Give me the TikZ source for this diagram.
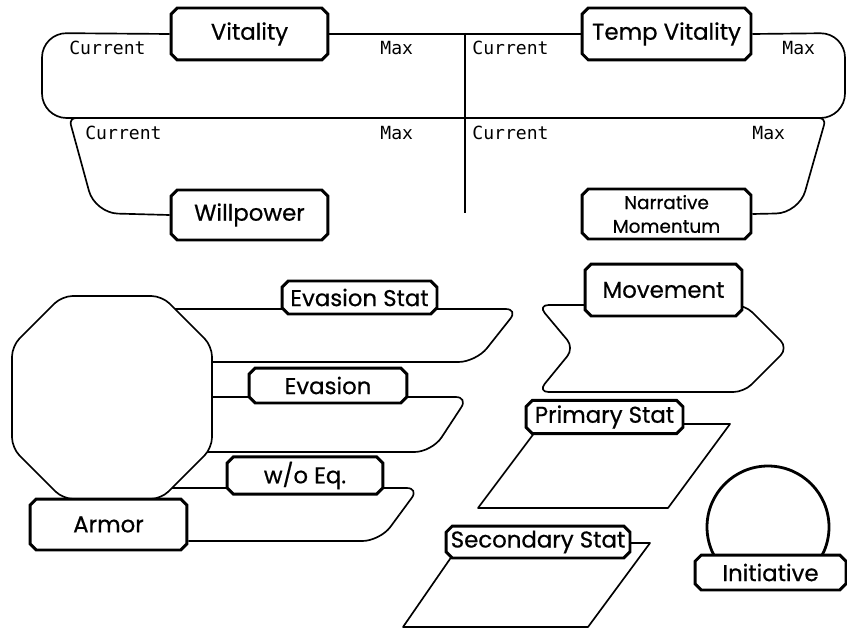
\documentclass[tikz,border=0pt]{standalone}
\usepackage{fontspec}
\setmainfont{Poppins}
\setmonofont{DejaVu Sans Mono}
\newfontfamily\tagfont{Poppins}[FakeBold=0.6]
\usetikzlibrary{shapes.misc}
\pgfdeclarelayer{background}
\pgfsetlayers{background,main}

\tikzset{
  tag/.style={chamfered rectangle, chamfered rectangle xsep=1.8pt,
    chamfered rectangle ysep=1.8pt, draw, line width=1.7pt, fill=white,
    inner sep=1pt, align=center, font=\tagfont\fontsize{13}{15}\selectfont,
    path picture={
      \foreach \corner/\dx/\dy in {north west/1/-1, north east/-1/-1,
                                   south west/1/1, south east/-1/1}
        \fill ([xshift=\dx*3.5pt, yshift=\dy*3.5pt]path picture bounding box.\corner)
          circle (0.55pt);}},
  field/.style={font=\ttfamily\fontsize{10.3}{12}\selectfont, anchor=west, inner sep=0pt},
  outline/.style={line width=0.95pt, line join=round},
}

\begin{document}
\begin{tikzpicture}[x=0.02cm, y=-0.02cm]
  \useasboundingbox (0,0) rectangle (847,628);

  % labels
  \node[tag, minimum width=3.14cm, minimum height=1.04cm] (vit) at (249.5,34) {Vitality};
  \node[tag, minimum width=3.38cm, minimum height=1.04cm] (tvit) at (666.5,34) {Temp Vitality};
  \node[tag, minimum width=3.14cm, minimum height=1cm] (will) at (249.5,215) {Willpower};
  \node[tag, minimum width=3.38cm, minimum height=1cm,
        font=\tagfont\fontsize{10.5}{13.5}\selectfont] (narr) at (666.5,214) {Narrative\\Momentum};
  \node[tag, minimum width=3.1cm, minimum height=0.66cm] (evst) at (359.5,297.5) {Evasion Stat};
  \node[tag, minimum width=3.16cm, minimum height=0.7cm] (eva) at (328,385.5) {Evasion};
  \node[tag, minimum width=3.12cm, minimum height=0.7cm] (woeq) at (305,475.5) {w/o Eq.};
  \node[tag, minimum width=3.14cm, minimum height=1.02cm] (armor) at (108.5,524.5) {Armor};
  \node[tag, minimum width=3.14cm, minimum height=1.04cm] (move) at (663.5,290) {Movement};
  \node[tag, minimum width=3.14cm, minimum height=0.64cm] (prim) at (604.5,417) {Primary Stat};
  \node[tag, minimum width=3.68cm, minimum height=0.64cm, inner sep=0pt] (sec) at (538,542) {Secondary Stat};
  \node[tag, minimum width=3.02cm, minimum height=0.7cm] (init) at (770.5,572.5) {Initiative};

  % fields
  \node[field] (vcur) at (69,48) {Current};
  \node[field] (vmax) at (380,48) {Max};
  \node[field] (tcur) at (472,48) {Current};
  \node[field] (tmax) at (782,48) {Max};
  \node[field] (wcur) at (85,133) {Current};
  \node[field] (wmax) at (380,133) {Max};
  \node[field] (ncur) at (472,133) {Current};
  \node[field] (nmax) at (752,133) {Max};

  \begin{pgfonlayer}{background}
    % vitality band
    \draw[outline, rounded corners=14pt] (vit.west) -- (42,33) -- (42,118)
      -- (845,118) -- (845,33) -- (tvit.east);
    \draw[outline] (vit.east) -- (tvit.west);
    \draw[outline] (465,33) -- (465,213);
    % willpower band
    \draw[outline, rounded corners=13pt] (will.west) -- (95,213) -- (81.9,165);
    \draw[outline, rounded corners=4pt] (81.9,165) -- (69,118) -- (90,118);
    \draw[outline, rounded corners=13pt] (narr.east) -- (799,213) -- (812.6,165);
    \draw[outline, rounded corners=4pt] (812.6,165) -- (826,118) -- (810,118);
    % defence bars
    \draw[outline, rounded corners=7pt] (150,309) -- (518,309) -- (497,335.5);
    \draw[outline, rounded corners=10pt] (497,335.5) -- (476,362) -- (150,362);
    \draw[outline, rounded corners=7pt] (150,397) -- (468,397) -- (450,424.5);
    \draw[outline, rounded corners=10pt] (450,424.5) -- (432,452) -- (150,452);
    \draw[outline, rounded corners=7pt] (150,488) -- (419,488) -- (399.5,514.5);
    \draw[outline, rounded corners=10pt] (399.5,514.5) -- (380,541) -- (armor.east |- 0,541);
    % armor octagon
    \draw[outline, fill=white, rounded corners=6pt] (112,296) -- (162,296) -- (212,346)
      -- (212,448) -- (161,499) -- (63,499) -- (12,448) -- (12,346) -- (62,296) -- cycle;
    % movement chevron
    \draw[outline, rounded corners=6pt] (663,305) -- (745,305) -- (788,348) -- (744,392)
      -- (538,392) -- (574,348) -- (538,305) -- (663,305);
    % stat boxes
    \draw[outline] (541,424) -- (730,424) -- (668,508) -- (478,508) -- cycle;
    \draw[outline] (461,543) -- (650,543) -- (588,627) -- (403,627) -- cycle;
    % initiative
    \draw[line width=1.6pt] (768,527) circle (61);
  \end{pgfonlayer}
\end{tikzpicture}
\end{document}
